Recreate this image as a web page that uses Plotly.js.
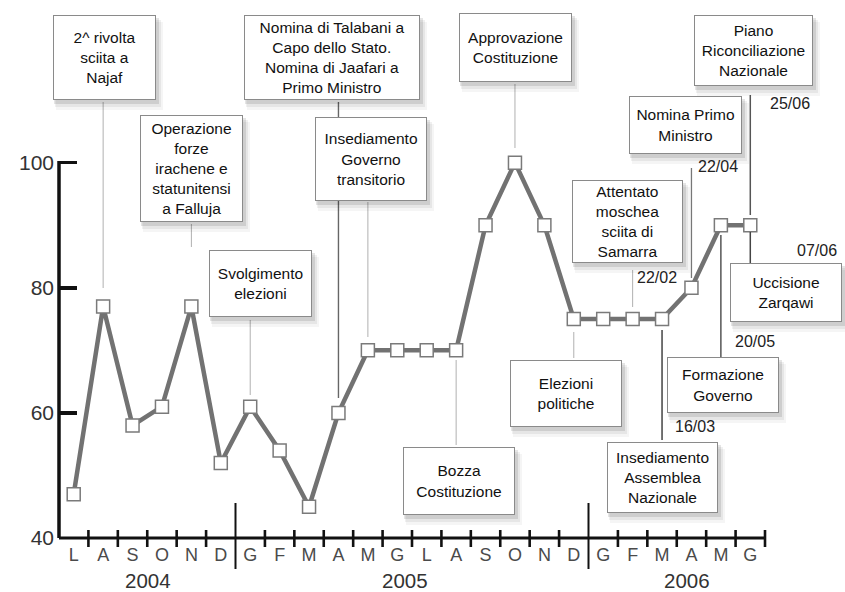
<!DOCTYPE html>
<html>
<head>
<meta charset="utf-8">
<script src="https://cdn.plot.ly/plotly-3.0.1.min.js"></script>
<style>html,body{margin:0;padding:0;background:#fff;}#chart{width:845px;height:592px;}</style>
</head>
<body>
<div id="chart"></div>
<script>
// ---------- DATA ----------
const months = ['L','A','S','O','N','D','G','F','M','A','M','G','L','A','S','O','N','D','G','F','M','A','M','G'];
const values = [47,77,58,61,77,52,61,54,45,60,70,70,70,70,90,100,90,75,75,75,75,80,90,90];
const years = ['2004','2005','2006'];
const yTicks = [40,60,80,100];
const eventTexts = [
  '2^ rivolta<br>sciita a<br>Najaf',
  'Operazione<br>forze<br>irachene e<br>statunitensi<br>a Falluja',
  'Svolgimento<br>elezioni',
  'Nomina di Talabani a<br>Capo dello Stato.<br>Nomina di Jaafari a<br>Primo Ministro',
  'Insediamento<br>Governo<br>transitorio',
  'Approvazione<br>Costituzione',
  'Bozza<br>Costituzione',
  'Elezioni<br>politiche',
  'Attentato<br>moschea<br>sciita di<br>Samarra',
  'Nomina Primo<br>Ministro',
  'Piano<br>Riconciliazione<br>Nazionale',
  'Uccisione<br>Zarqawi',
  'Formazione<br>Governo',
  'Insediamento<br>Assemblea<br>Nazionale'
];
const eventMonths = [1,4,6,9,10,15,13,17,19,21,23,23,22,20];
const eventDates = ['','','','','','','','','22/02','22/04','25/06','07/06','20/05','16/03'];

// ---------- LAYOUT (pixel positions of boxes / connectors / labels) ----------
const boxPx = [
  [53,15,156,100],[140,115,243,222],[209,250,312,317],[244,15,420,100],
  [315,117,427,201],[459,13,572,82],[403,447,515,515],[510,360,622,427],
  [572,180,683,263],[629,96,742,154],[694,15,813,86],[730,263,842,322],
  [667,357,779,413],[607,442,718,513]
];
const connPx = [
  [102,288,'#b0b0b0',1],[224,247,'#b0b0b0',1],[320,395,'#b0b0b0',1],[102,398,'#666',1.4],
  [202,337,'#b0b0b0',1],[84,148,'#b0b0b0',1],[360,445,'#b0b0b0',1],[332,358,'#b0b0b0',1],
  [270,307,'#b0b0b0',1],[168,278,'#777',1.3],[95,215,'#555',1.5],[232,263,'#444',1.5],
  [235,357,'#555',1.5],[330,440,'#444',1.5]
];
const datePx = [null,null,null,null,null,null,null,null,[657,277],[718,166],[790,104],[817,250],[755,342],[695,427]];
const yearPx = [148,405,687];

const ML=59, MR=80, MB=54, MT=0, W=845, H=592;
const PW=W-ML-MR, PH=H-MT-MB;
const px = v => (v-ML)/PW;
const py = v => (MT+PH-v)/PH;
const monthPaper = i => (i+0.5)/months.length;

const FONT='"Liberation Sans", Arial, Helvetica, sans-serif';
const shapes=[], annotations=[];

// axes lines
shapes.push({type:'line',xref:'paper',yref:'paper',x0:0,x1:0,y0:0,y1:py(162.7)+0.003,line:{color:'#111',width:3.5},layer:'above'});
shapes.push({type:'line',xref:'paper',yref:'paper',x0:0,x1:1,y0:0,y1:0,line:{color:'#111',width:3},layer:'above'});
// month boundary ticks
for(let k=1;k<=months.length;k++){
  const xb=k/months.length;
  const isDiv=(k===6||k===18);
  shapes.push({type:'line',xref:'paper',yref:'paper',x0:xb,x1:xb,
    y0:isDiv?py(503):py(530), y1:isDiv?py(569):py(547),
    line:{color:'#111',width:isDiv?2:2.6},layer:'above'});
}
// connectors
eventMonths.forEach((m,i)=>{
  const c=connPx[i];
  shapes.push({type:'line',xref:'paper',yref:'paper',x0:monthPaper(m),x1:monthPaper(m),y0:py(c[0]),y1:py(c[1]),line:{color:c[2],width:c[3]},layer:'above'});
});
// box shadows + boxes
boxPx.forEach((b,i)=>{
  const sh=[[1,3,3,4,0.10],[2,5,5,7,0.06],[3,7,7,10,0.04]];
  sh.forEach(s=>{
    shapes.push({type:'rect',xref:'paper',yref:'paper',x0:px(b[0]+s[0]),x1:px(b[2]+s[2]),y0:py(b[1]+s[1]),y1:py(b[3]+s[3]),
      line:{width:0},fillcolor:'rgba(0,0,0,'+s[4]+')',layer:'above'});
  });
  annotations.push({xref:'paper',yref:'paper',x:px(b[0]),y:py(b[1]),xanchor:'left',yanchor:'top',
    width:b[2]-b[0]-2,height:b[3]-b[1]-2,text:eventTexts[i],showarrow:false,align:'center',valign:'middle',
    bgcolor:'#fff',bordercolor:'#8a8a8a',borderwidth:1,borderpad:0,
    font:{family:FONT,size:15.5,color:'#111'}});
  if(datePx[i]){
    annotations.push({xref:'paper',yref:'paper',x:px(datePx[i][0]),y:py(datePx[i][1]),xanchor:'center',yanchor:'middle',
      text:eventDates[i],showarrow:false,font:{family:FONT,size:16,color:'#222'}});
  }
});
// years
years.forEach((yr,i)=>{
  annotations.push({xref:'paper',yref:'paper',x:px(yearPx[i]),y:py(580.5),xanchor:'center',yanchor:'middle',
    text:yr,showarrow:false,font:{family:FONT,size:20.5,color:'#333'},borderpad:0});
});

const trace={
  x: months.map((_,i)=>i), y: values, type:'scatter', mode:'lines+markers', cliponaxis:false,
  line:{color:'#727272',width:4.5},
  marker:{symbol:'square',size:13,color:'#fff',line:{color:'#7a7a7a',width:1.5}},
  hoverinfo:'skip'
};

const layout={
  width:W,height:H,margin:{l:ML,r:MR,t:MT,b:MB,pad:0},
  paper_bgcolor:'#fff',plot_bgcolor:'#fff',showlegend:false,
  font:{family:FONT},
  xaxis:{range:[-0.5,months.length-0.5],tickvals:months.map((_,i)=>i),ticktext:months,ticks:'',
    showgrid:false,zeroline:false,showline:false,tickfont:{family:FONT,size:18,color:'#4a4a4a'},ticklabelstandoff:4,fixedrange:true},
  yaxis:{range:[40,126],tickvals:yTicks,ticktext:yTicks.map(String),ticks:'inside',ticklen:18,tickwidth:3.5,tickcolor:'#111',
    showgrid:false,zeroline:false,showline:false,tickfont:{family:FONT,size:21,color:'#333'},ticklabelstandoff:4,fixedrange:true},
  shapes:shapes,annotations:annotations
};
Plotly.newPlot('chart',[trace],layout,{displayModeBar:false,staticPlot:true});
</script>
</body>
</html>
